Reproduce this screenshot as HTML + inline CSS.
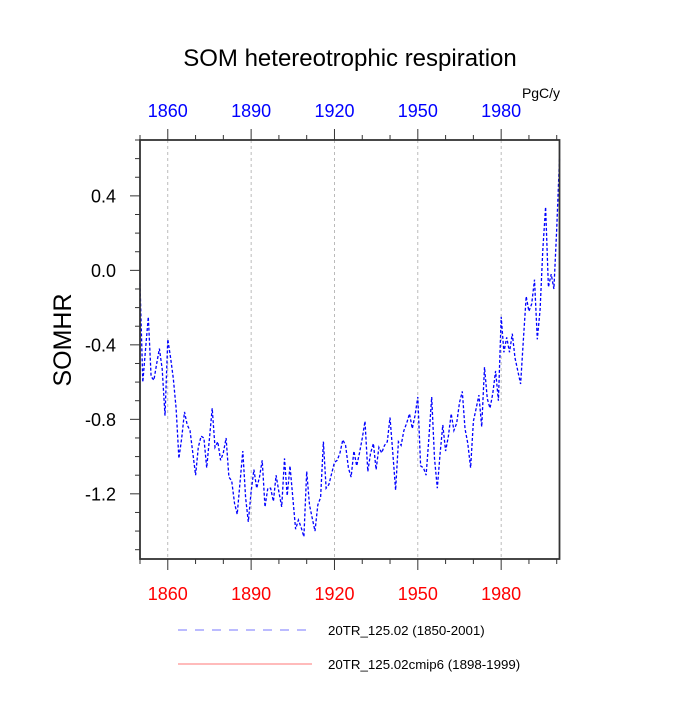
<!DOCTYPE html>
<html><head><meta charset="utf-8"><style>
html,body{margin:0;padding:0;background:#fff;}
svg text{font-family:"Liberation Sans",Arial,sans-serif;}
</style></head><body>
<svg id="chart" width="700" height="700" xmlns="http://www.w3.org/2000/svg">
<text x="350" y="66" text-anchor="middle" font-size="24">SOM hetereotrophic respiration</text>
<text x="541" y="98" text-anchor="middle" font-size="14">PgC/y</text>
<text transform="translate(71,340) rotate(-90)" text-anchor="middle" font-size="25">SOMHR</text>
<g id="grid"></g>
<g id="series"></g>
<rect x="140" y="140" width="419.5" height="419" fill="none" stroke="#333" stroke-width="1.8"/>
<g id="axes"></g>
<g>
<line x1="178" y1="630" x2="312" y2="630" stroke="#7777ff" stroke-width="1" stroke-dasharray="9,8"/>
<text x="328" y="635" font-size="13.3">20TR_125.02 (1850-2001)</text>
<line x1="178" y1="664" x2="312" y2="664" stroke="#ff7777" stroke-width="1"/>
<text x="328" y="669" font-size="13.3">20TR_125.02cmip6 (1898-1999)</text>
</g>
</svg>
<script>
const startYear = 1850;
const values = [-0.07,-0.60,-0.42,-0.25,-0.57,-0.59,-0.50,-0.42,-0.53,-0.78,
-0.37,-0.47,-0.58,-0.74,-1.01,-0.90,-0.76,-0.83,-0.86,-0.98,
-1.10,-0.95,-0.89,-0.90,-1.06,-0.90,-0.74,-0.95,-0.92,-1.02,
-0.98,-0.90,-1.11,-1.13,-1.25,-1.31,-1.14,-0.97,-1.22,-1.35,
-1.19,-1.07,-1.17,-1.11,-1.02,-1.27,-1.17,-1.17,-1.24,-1.10,
-1.19,-1.27,-1.01,-1.21,-1.05,-1.22,-1.39,-1.34,-1.38,-1.43,
-1.08,-1.26,-1.33,-1.40,-1.26,-1.22,-0.92,-1.17,-1.15,-1.09,
-1.03,-1.02,-0.98,-0.91,-0.94,-1.06,-1.11,-0.97,-1.05,-0.98,
-0.90,-0.81,-1.08,-0.98,-0.93,-1.07,-0.95,-0.98,-0.94,-0.92,
-0.79,-0.98,-1.18,-0.92,-0.94,-0.86,-0.82,-0.77,-0.85,-0.78,
-0.68,-1.05,-1.06,-1.10,-0.90,-0.68,-1.01,-1.17,-0.99,-0.83,
-0.97,-0.89,-0.77,-0.86,-0.82,-0.71,-0.65,-0.85,-0.93,-1.06,
-0.81,-0.74,-0.67,-0.84,-0.52,-0.69,-0.74,-0.66,-0.54,-0.70,
-0.25,-0.44,-0.36,-0.44,-0.34,-0.47,-0.54,-0.61,-0.37,-0.14,
-0.22,-0.18,-0.05,-0.37,-0.21,0.11,0.34,-0.09,-0.02,-0.10,
0.22,0.60];
const xTickYears = [1860,1890,1920,1950,1980];
const yTickValues = [0.4,0.0,-0.4,-0.8,-1.2];
const yTickLabels = ["0.4","0.0","-0.4","-0.8","-1.2"];

const X0=140,X1=559.5,Y0=140,Y1=559;
const xMin=1850,xMax=2001,yMin=-1.55,yMax=0.7;
const xs=y=>X0+(y-xMin)/(xMax-xMin)*(X1-X0);
const ys=v=>Y1-(v-yMin)/(yMax-yMin)*(Y1-Y0);
const NS="http://www.w3.org/2000/svg";
function mk(tag,attrs,parent){const e=document.createElementNS(NS,tag);for(const k in attrs)e.setAttribute(k,attrs[k]);parent.appendChild(e);return e;}
const grid=document.getElementById('grid'),axes=document.getElementById('axes'),series=document.getElementById('series');

xTickYears.forEach(yr=>{
  const g=mk('line',{x1:xs(yr),x2:xs(yr),y1:Y0,y2:Y1,stroke:'#aaa','stroke-width':0.8,'stroke-dasharray':'3,3'},grid);
  
  
  const t1=mk('text',{x:xs(yr),y:117,'text-anchor':'middle','font-size':18,fill:'#0000ff'},axes);
  t1.textContent=yr;
  
  
  const t2=mk('text',{x:xs(yr),y:600,'text-anchor':'middle','font-size':18,fill:'#ff0000'},axes);
  t2.textContent=yr;
  
  
});
for(let yr=1850;yr<=2000;yr+=10){
  const major=xTickYears.includes(yr);const L=major?11:5;
  const a=mk('line',{x1:xs(yr),x2:xs(yr),y1:Y0-L,y2:Y0,stroke:'#333','stroke-width':1},axes);
  
  
  const b=mk('line',{x1:xs(yr),x2:xs(yr),y1:Y1,y2:Y1+L,stroke:'#333','stroke-width':1},axes);
  
  
}
for(let i=-15;i<=7;i++){
  const v=i/10;const major=yTickValues.some(t=>Math.abs(t-v)<1e-6);const L=major?10:5;
  const a=mk('line',{x1:X0-L,x2:X0,y1:ys(v),y2:ys(v),stroke:'#333','stroke-width':1},axes);
  
  
}
yTickValues.forEach((v,i)=>{
  const t=mk('text',{x:116,y:ys(v)+6.5,'text-anchor':'end','font-size':18,fill:'#000'},axes);
  t.textContent=yTickLabels[i];
  
  
});
const pts=values.map((v,i)=>xs(startYear+i).toFixed(1)+','+ys(v).toFixed(1)).join(' ');
const pl=mk('polyline',{points:pts,fill:'none',stroke:'#0000ff','stroke-width':1.3,'stroke-dasharray':'3,2'},series);


</script>
</body></html>
